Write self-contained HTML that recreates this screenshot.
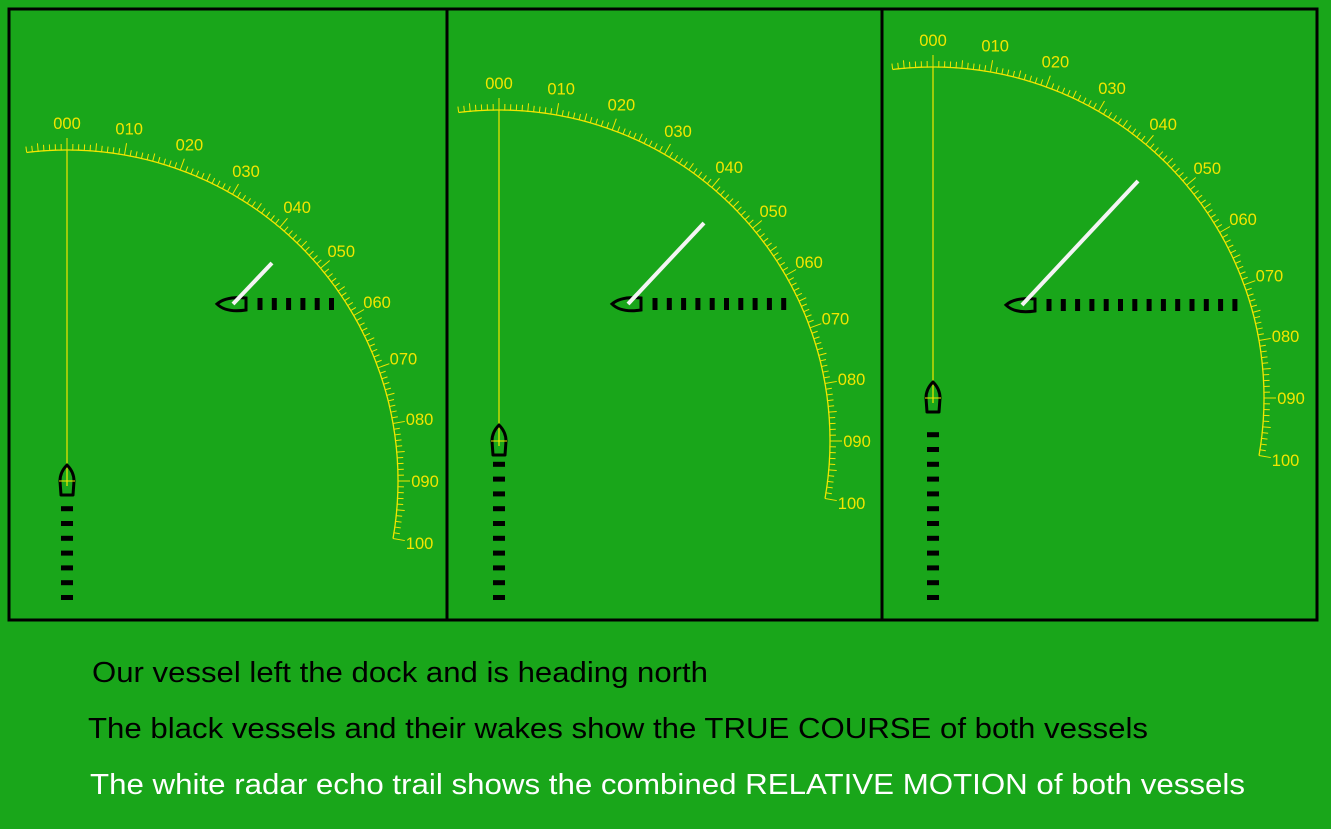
<!DOCTYPE html>
<html><head><meta charset="utf-8"><style>
html,body{margin:0;padding:0;background:#19a61a;}
svg{display:block;}
</style></head><body>
<svg id="s" width="1331" height="829" xmlns="http://www.w3.org/2000/svg" font-family="Liberation Sans, sans-serif">
<rect width="1331" height="829" fill="#19a61a"/>
<rect x="9" y="9" width="1308" height="611" fill="none" stroke="#000" stroke-width="3"/>
<line x1="447" y1="9" x2="447" y2="620" stroke="#000" stroke-width="3"/>
<line x1="882" y1="9" x2="882" y2="620" stroke="#000" stroke-width="3"/>
<g id="g"></g>
<text x="92" y="682" font-size="29" fill="#000" textLength="616" lengthAdjust="spacingAndGlyphs">Our vessel left the dock and is heading north</text>
<text x="88" y="738" font-size="29" fill="#000" textLength="1060" lengthAdjust="spacingAndGlyphs">The black vessels and their wakes show the TRUE COURSE of both vessels</text>
<text x="90" y="794" font-size="29" fill="#fff" textLength="1155" lengthAdjust="spacingAndGlyphs">The white radar echo trail shows the combined RELATIVE MOTION of both vessels</text>
</svg>
<script>
const NS="http://www.w3.org/2000/svg",g=document.getElementById('g');
function el(t,a,txt){const e=document.createElementNS(NS,t);for(const k in a)e.setAttribute(k,a[k]);if(txt)e.textContent=txt;g.appendChild(e);return e;}
const Y="#f2e600";
const panels=[
 {cx:67,cy:481,tx:232,ty:304,ex:272,ey:263,td:6,od:7},
 {cx:499,cy:441,tx:627,ty:304,ex:704,ey:223,td:10,od:10},
 {cx:933,cy:398,tx:1021,ty:305,ex:1138,ey:181,td:14,od:12}];
const R=331;
panels.forEach(p=>{
 let d="";
 for(let a=-7;a<=100;a+=0.5){const r=a*Math.PI/180;const x=p.cx+R*Math.sin(r),y=p.cy-R*Math.cos(r);d+=(d?"L":"M")+x.toFixed(1)+","+y.toFixed(1);}
 el('path',{d:d,fill:'none',stroke:Y,'stroke-width':1.3});
 for(let a=-7;a<=100;a++){const r=a*Math.PI/180,s=Math.sin(r),c=Math.cos(r);
  const L=a%10==0?12:(a%5==0?8:6);
  el('line',{x1:p.cx+R*s,y1:p.cy-R*c,x2:p.cx+(R+L)*s,y2:p.cy-(R+L)*c,stroke:Y,'stroke-width':1});
  if(a%10==0&&a>=0){const lr=R+27;el('text',{x:p.cx+lr*s,y:p.cy-lr*c+6,'font-size':16.5,fill:Y,'text-anchor':'middle'},String(a).padStart(3,'0'));}
 }
 el('line',{x1:p.cx,y1:p.cy-R,x2:p.cx,y2:p.cy+5,stroke:Y,'stroke-width':1.2});
 const x=p.cx,y=p.cy;
 el('path',{d:`M${x},${y-16} Q${x+7},${y-9} ${x+7},${y} L${x+6},${y+14} L${x-6},${y+14} L${x-7},${y} Q${x-7},${y-9} ${x},${y-16} Z`,fill:'none',stroke:'#000','stroke-width':3,'stroke-linejoin':'round'});
 el('line',{x1:x-8,y1:y,x2:x+8,y2:y,stroke:Y,'stroke-width':1});
 for(let i=0;i<p.od;i++){const yy=598-i*14.8;el('rect',{x:x-6,y:yy-3,width:12,height:5,fill:'#000'});}
 const cx=p.tx,cy=p.ty;
 el('path',{d:`M${cx-15},${cy} Q${cx-6},${cy-8} ${cx+14},${cy-6} L${cx+14},${cy+6} Q${cx-6},${cy+9} ${cx-15},${cy} Z`,fill:'none',stroke:'#000','stroke-width':3});
 for(let i=0;i<p.td;i++){const xx=cx+28+i*14.3;el('rect',{x:xx-2.5,y:cy-6,width:5,height:12,fill:'#000'});}
 el('line',{x1:cx+1,y1:cy,x2:p.ex,y2:p.ey,stroke:'#f4f4f4','stroke-width':4});
});
</script>
</body></html>
